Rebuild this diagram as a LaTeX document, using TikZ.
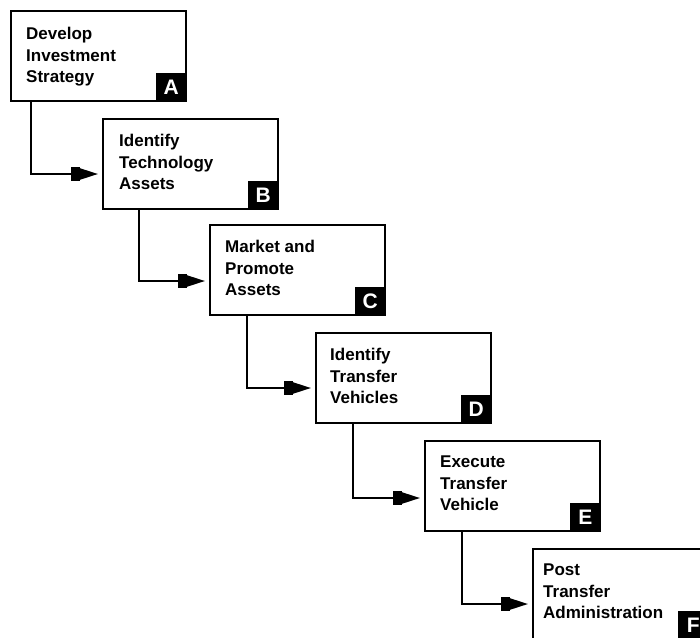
\documentclass[tikz,border=0pt]{standalone}
\usepackage{fontspec}
\setmainfont{Liberation Sans}
\usetikzlibrary{arrows.meta}
\begin{document}
\begin{tikzpicture}[x=1pt,y=-1pt,
  stepbox/.style={draw, line width=2pt, minimum width=175pt, minimum height=90pt, anchor=north west, inner sep=0pt},
  txt/.style={anchor=north west, inner sep=0pt, align=left, font=\bfseries\fontsize{17}{21.5}\selectfont},
  tag/.style={fill=black, text=white, anchor=south east, minimum width=31pt, minimum height=29pt, inner sep=0pt, font=\bfseries\fontsize{21}{21}\selectfont},
  conn/.style={line width=2pt, -{Rectangle[length=9pt,width=14pt]Triangle[length=18pt,width=11pt]}, shorten >=4pt}]
\clip (0,0) rectangle (700,637);
\fill[white] (0,0) rectangle (700,637);
% boxes
\node[stepbox] (A) at (10,10) {};
\node[stepbox] (B) at (102,118) {};
\node[stepbox] (C) at (209,224) {};
\node[stepbox] (D) at (315,332) {};
\node[stepbox] (E) at (424,440) {};
\node[stepbox] (F) at (532,548) {};
% texts
\node[txt] (At) at ([xshift=16pt,yshift=-17pt]A.north west) {Develop\\Investment\\Strategy};
\node[txt] (Bt) at ([xshift=17pt,yshift=-16pt]B.north west) {Identify\\Technology\\Assets};
\node[txt] (Ct) at ([xshift=16pt,yshift=-16pt]C.north west) {Market and\\Promote\\Assets};
\node[txt] (Dt) at ([xshift=15pt,yshift=-16pt]D.north west) {Identify\\Transfer\\Vehicles};
\node[txt] (Et) at ([xshift=16pt,yshift=-16pt]E.north west) {Execute\\Transfer\\Vehicle};
\node[txt] (Ft) at ([xshift=11pt,yshift=-16pt]F.north west) {Post\\Transfer\\Administration};
% tags
\node[tag] (Ag) at (A.south east) {A};
\node[tag] (Bg) at (B.south east) {B};
\node[tag] (Cg) at (C.south east) {C};
\node[tag] (Dg) at (D.south east) {D};
\node[tag] (Eg) at (E.south east) {E};
\node[tag] (Fg) at (F.south east) {F};
% connectors
\draw[conn] ([xshift=21pt]A.south west) |- ([yshift=-10pt]B.west);
\draw[conn] ([xshift=37pt]B.south west) |- ([yshift=-11pt]C.west);
\draw[conn] ([xshift=38pt]C.south west) |- ([yshift=-10pt]D.west);
\draw[conn] ([xshift=38pt]D.south west) |- ([yshift=-12pt]E.west);
\draw[conn] ([xshift=38pt]E.south west) |- ([yshift=-10pt]F.west);
\end{tikzpicture}
\end{document}
